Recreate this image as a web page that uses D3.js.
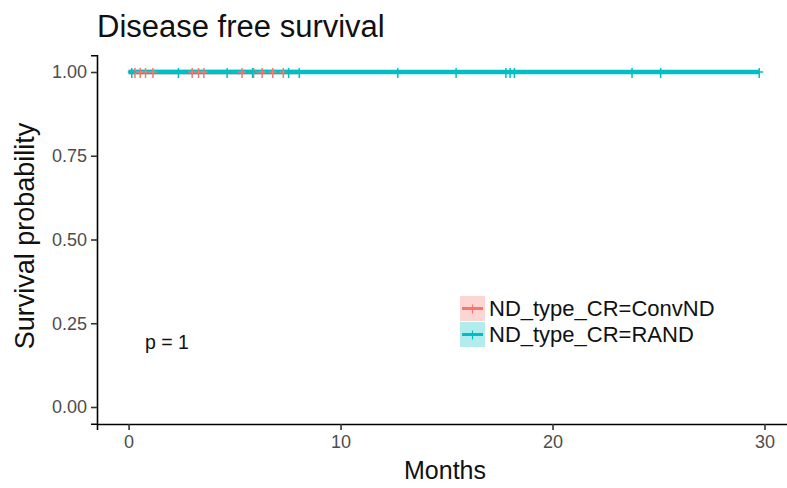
<!DOCTYPE html>
<html>
<head>
<meta charset="utf-8">
<script src="https://cdn.jsdelivr.net/npm/d3@7"></script>
<style>
  body { margin: 0; background: #fff; }
  svg text { font-family: Arial, "Liberation Sans", sans-serif; }
</style>
</head>
<body>
<div id="chart"></div>
<script>
// data
const groups = ["ND_type_CR=ConvND", "ND_type_CR=RAND"];
const colors = ["#F8766D", "#00BFC4"];
const lineEnd = [8.0, 29.75];
const censorConv = [0.3, 0.55, 0.8, 1.15, 3.0, 3.3, 3.55, 5.35, 5.9, 6.3, 6.8, 7.3];
const censorRand = [0.15, 2.35, 4.65, 5.85, 7.55, 8.05, 12.7, 15.45, 17.8, 18.0, 18.2, 23.75, 25.1, 29.75];
const xTicks = [0, 10, 20, 30];
const yTicks = [0, 0.25, 0.5, 0.75, 1];

const W = 787, H = 488;
const svg = d3.select("#chart").append("svg")
  .attr("width", W).attr("height", H);

const x = d3.scaleLinear().domain([-1.49, 31.24]).range([97, 790.8]);
const y = d3.scaleLinear().domain([-0.05, 1.05]).range([423.75, 55.25]);

//title
svg.append("text")
  .attr("x", 97).attr("y", 37)
  .attr("font-size", 31).attr("fill", "#111")
  .text("Disease free survival");

//axes
const xAxis = svg.append("g")
  .attr("transform", "translate(0,424)")
  .call(d3.axisBottom(x).tickValues(xTicks).tickSize(6).tickPadding(5));
const yAxis = svg.append("g")
  .attr("transform", "translate(97,0)")
  .call(d3.axisLeft(y).tickValues(yTicks).tickFormat(d3.format(".2f")).tickSize(6).tickPadding(4));

[xAxis, yAxis].forEach(a => {
  a.select(".domain").attr("stroke", "#000").attr("stroke-width", 1.6);
  a.selectAll(".tick line").attr("stroke", "#333").attr("stroke-width", 1.6);
  a.selectAll(".tick text").attr("fill", "#4D4D4D").attr("font-size", 18)
    .style("font-family", "Arial, 'Liberation Sans', sans-serif");
});

//axis titles
svg.append("text")
  .attr("x", 445).attr("y", 479)
  .attr("text-anchor", "middle").attr("font-size", 25).attr("fill", "#111")
  .text("Months");
svg.append("text")
  .attr("transform", "translate(34,236) rotate(-90)")
  .attr("text-anchor", "middle").attr("font-size", 27).attr("fill", "#111")
  .text("Survival probability");

//survival curves
const plot = svg.append("g");
const censors = [censorConv, censorRand];
groups.forEach((g, i) => {
  plot.append("line")
    .attr("x1", x(0)).attr("x2", x(lineEnd[i]))
    .attr("y1", y(1)).attr("y2", y(1))
    .attr("stroke", colors[i]).attr("stroke-width", 4.5);
});
groups.forEach((g, i) => {
  plot.selectAll("path.c" + i).data(censors[i])
    .enter()
    .append("path")
      .attr("class", "c" + i)
      .attr("d", d => "M" + (x(d) - 4) + "," + y(1) + "h8M" + x(d) + "," + (y(1) - 4) + "v10")
      .attr("stroke", colors[i]).attr("stroke-width", 1.5).attr("fill", "none");
});

//p value
svg.append("text")
  .attr("x", 145).attr("y", 349)
  .attr("font-size", 19.5).attr("fill", "#111")
  .text("p = 1");

//legend
const legend = svg.append("g").attr("transform", "translate(460,296)");
groups.forEach((g, i) => {
  const row = legend.append("g").attr("transform", "translate(0," + (i * 26) + ")");
  row.append("rect").attr("width", 25).attr("height", 25)
    .attr("fill", colors[i]).attr("fill-opacity", 0.3);
  row.append("line").attr("x1", 2).attr("x2", 23).attr("y1", 12.5).attr("y2", 12.5)
    .attr("stroke", colors[i]).attr("stroke-width", 3);
  row.append("path").attr("d", "M8.5,12.5h8M12.5,8.5v9")
    .attr("stroke", colors[i]).attr("stroke-width", 1.2);
  row.append("text").attr("x", 29).attr("y", 20)
    .attr("font-size", 22).attr("fill", "#111")
    .text(g);
});
</script>
</body>
</html>
